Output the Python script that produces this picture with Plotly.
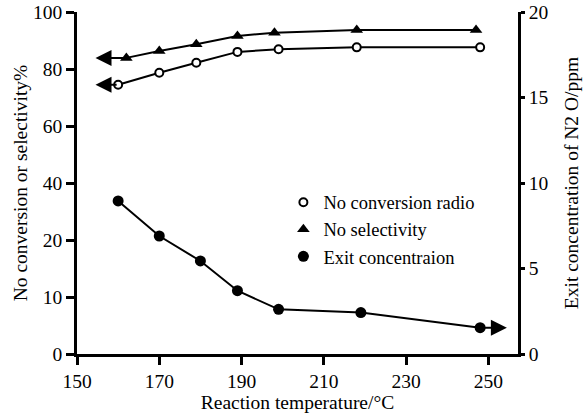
import plotly.graph_objects as go

# ---- data ----
conv_temp = [160, 170, 179, 189, 199, 218, 248]
conversion = [74.5, 78.7, 82.2, 86.0, 86.9, 87.6, 87.6]

sel_temp = [162, 170, 179, 189, 198, 218, 247]
selectivity = [83.9, 86.3, 88.7, 91.6, 92.7, 93.7, 93.7]

exit_temp = [160, 170, 180, 189, 199, 219, 248]
exit_conc = [8.95, 6.9, 5.44, 3.70, 2.61, 2.42, 1.54]

x_ticks = [150, 170, 190, 210, 230, 250]
left_tickvals = [-20, 0, 20, 40, 60, 80, 100]
left_ticktext = ["0", "10", "20", "40", "60", "80", "100"]
right_ticks = [0, 5, 10, 15, 20]

names = ["No conversion radio", "No selectivity", "Exit concentraion"]

# ---- layout constants ----
FONT = "Liberation Serif, Times New Roman, serif"
FS = 19.5
LEG_FS = 18.5
ARROW_LEFT_X = 154.5
ARROW_RIGHT_X = 254.5

fig = go.Figure()

fig.add_trace(go.Scatter(
    x=conv_temp, y=conversion, mode="lines+markers", showlegend=False,
    line=dict(color="black", width=2),
    marker=dict(symbol="circle", size=8, color="white", line=dict(color="black", width=2)),
    yaxis="y"))
fig.add_trace(go.Scatter(
    x=sel_temp, y=selectivity, mode="lines+markers", showlegend=False,
    line=dict(color="black", width=2),
    marker=dict(symbol="triangle-up", size=11, color="black"),
    yaxis="y"))
fig.add_trace(go.Scatter(
    x=exit_temp, y=exit_conc, mode="lines+markers", showlegend=False,
    line=dict(color="black", width=2),
    marker=dict(symbol="circle", size=11, color="black"),
    yaxis="y2"))

# legend-only entries (markers only)
fig.add_trace(go.Scatter(x=[None], y=[None], mode="markers", name=names[0],
    marker=dict(symbol="circle", size=8, color="white", line=dict(color="black", width=2))))
fig.add_trace(go.Scatter(x=[None], y=[None], mode="markers", name=names[1],
    marker=dict(symbol="triangle-up", size=11, color="black")))
fig.add_trace(go.Scatter(x=[None], y=[None], mode="markers", name=names[2],
    marker=dict(symbol="circle", size=11, color="black")))

arrow_common = dict(text="", showarrow=True, arrowhead=2, arrowsize=1.6,
                    arrowwidth=2, arrowcolor="black", axref="x", xref="x")
annotations = [
    dict(x=ARROW_LEFT_X, y=conversion[0], ax=conv_temp[0], ay=conversion[0],
         yref="y", ayref="y", **arrow_common),
    dict(x=ARROW_LEFT_X, y=selectivity[0], ax=sel_temp[0], ay=selectivity[0],
         yref="y", ayref="y", **arrow_common),
    dict(x=ARROW_RIGHT_X, y=exit_conc[-1], ax=exit_temp[-1], ay=exit_conc[-1],
         yref="y2", ayref="y2", **arrow_common),
]

axis_common = dict(showgrid=False, zeroline=False, showline=True, linecolor="black",
                   linewidth=2.5, ticks="outside", tickcolor="black", tickwidth=2.5,
                   tickfont=dict(family=FONT, size=FS, color="black"))

fig.update_layout(
    width=584, height=416,
    margin=dict(l=77, r=66, t=12, b=62, autoexpand=False),
    paper_bgcolor="white", plot_bgcolor="white",
    font=dict(family=FONT, size=FS, color="black"),
    xaxis=dict(range=[150, 257.2], tickvals=x_ticks, ticklen=8,
               title=dict(text="Reaction temperature/°C", standoff=2,
                          font=dict(family=FONT, size=FS)),
               **axis_common),
    yaxis=dict(range=[-20, 100], tickvals=left_tickvals, ticktext=left_ticktext,
               ticklen=8,
               title=dict(text="No conversion or selectivity%", standoff=1,
                          font=dict(family=FONT, size=FS)),
               **axis_common),
    yaxis2=dict(range=[0, 20], tickvals=right_ticks, overlaying="y", side="right",
                ticklen=4,
                title=dict(text="Exit concentration of N2 O/ppm", standoff=18,
                           font=dict(family=FONT, size=FS)),
                **axis_common),
    legend=dict(x=0.468, y=0.498, xanchor="left", yanchor="top",
                bgcolor="rgba(0,0,0,0)", borderwidth=0,
                font=dict(family=FONT, size=LEG_FS, color="black")),
    annotations=annotations,
)

fig.write_html("out.html")
